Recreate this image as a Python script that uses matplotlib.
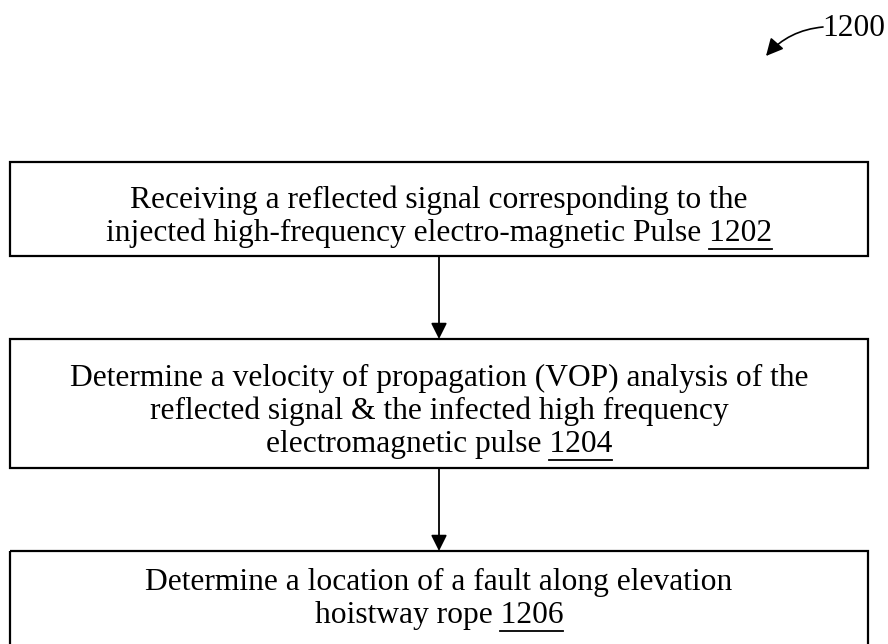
import matplotlib
matplotlib.use('Agg')
import matplotlib.pyplot as plt
from matplotlib.patches import Rectangle

# 流程步骤文本（最后一行末尾带编号，编号加下划线）
step_lines = [
    ["Receiving a reflected signal corresponding to the",
     "injected high-frequency electro-magnetic Pulse"],
    ["Determine a velocity of propagation (VOP) analysis of the",
     "reflected signal & the infected high frequency",
     "electromagnetic pulse"],
    ["Determine a location of a fault along elevation",
     "hoistway rope"],
]
step_ids = ["1202", "1204", "1206"]
figure_id = "1200"

plt.rcParams['font.family'] = ['Liberation Serif', 'DejaVu Serif']

fig = plt.figure(figsize=(8.88, 6.44), dpi=100)
ax = fig.add_axes([0, 0, 1, 1])
ax.set_xlim(0, 888)
ax.set_ylim(644, 0)
ax.axis('off')

# box layout in pixel coords (top, bottom)
x_left, x_right = 10, 868
boxes = [(162, 256), (339, 468), (551, 660)]
line_gap = 33
fs = 22.7
cx = (x_left + x_right) / 2

fig.canvas.draw()
renderer = fig.canvas.get_renderer()
inv = ax.transData.inverted()

for (top, bottom), lines, sid in zip(boxes, step_lines, step_ids):
    ax.add_patch(Rectangle((x_left, top), x_right - x_left, bottom - top,
                           fill=False, edgecolor='black', linewidth=1.6))
    n = len(lines)
    if bottom > 644:
        mid = top + 48
    else:
        mid = (top + bottom) / 2 + 8
    y0 = mid - (n - 1) * line_gap / 2
    for i, ln in enumerate(lines):
        y = y0 + i * line_gap
        if i == n - 1:
            full = ln + " " + sid
            t = ax.text(cx, y, full, ha='center', va='center', fontsize=fs)
            bb = t.get_window_extent(renderer)
            tn = ax.text(0, 0, sid, fontsize=fs)
            nb = tn.get_window_extent(renderer)
            tn.remove()
            (xr, _), = inv.transform([(bb.x1, bb.y0)])
            (xl, _), = inv.transform([(bb.x1 - nb.width, bb.y0)])
            ax.plot([xl, xr], [y + 15, y + 15], color='black', linewidth=1.3)
        else:
            ax.text(cx, y, ln, ha='center', va='center', fontsize=fs)

# arrows between boxes
for (t1, b1), (t2, b2) in zip(boxes[:-1], boxes[1:]):
    ax.annotate('', xy=(cx, t2), xytext=(cx, b1),
                arrowprops=dict(arrowstyle='-|>', color='black', lw=1.3,
                                mutation_scale=24, shrinkA=0, shrinkB=0))

# figure reference number with curved arrow
ax.text(885, 28, figure_id, ha='right', va='center', fontsize=fs)
ax.annotate('', xy=(766, 56), xytext=(823, 27),
            arrowprops=dict(arrowstyle='-|>', color='black', lw=1.2,
                            mutation_scale=26, shrinkA=0, shrinkB=0,
                            connectionstyle='arc3,rad=0.2'))

fig.savefig('out.png', dpi=100)
